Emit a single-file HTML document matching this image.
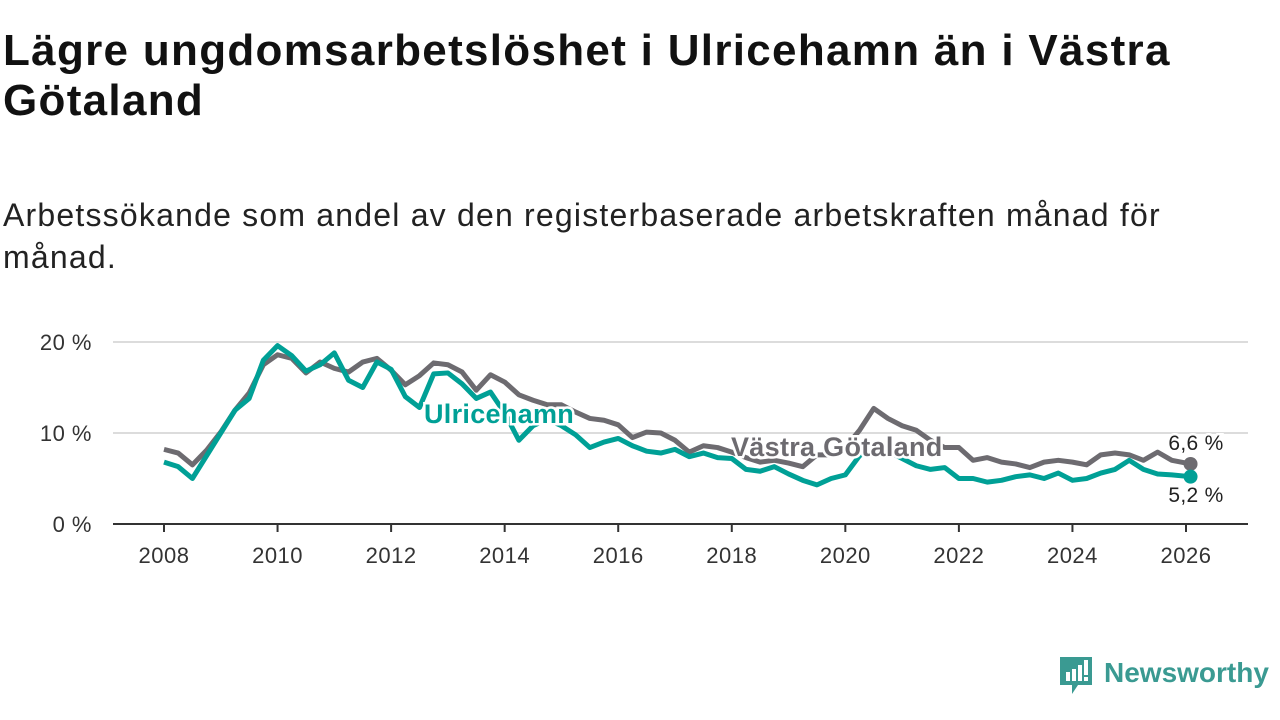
<!DOCTYPE html>
<html><head><meta charset="utf-8">
<style>
body{margin:0;width:1280px;height:720px;background:#fff;font-family:"Liberation Sans",sans-serif;overflow:hidden;position:relative}
h1{position:absolute;left:3px;top:26px;margin:0;font-size:44px;line-height:50px;font-weight:bold;color:#111;width:1270px;letter-spacing:1.3px;white-space:nowrap}
.sub{position:absolute;left:3px;top:194px;font-size:32px;line-height:42px;color:#222;width:1270px;letter-spacing:1.2px;white-space:nowrap}
svg{position:absolute;left:0;top:0}
.logo{position:absolute;left:1058px;top:655px}
</style></head><body>
<h1>Lägre ungdomsarbetslöshet i Ulricehamn än i Västra<br>Götaland</h1>
<div class="sub">Arbetssökande som andel av den registerbaserade arbetskraften månad för<br>månad.</div>
<svg id="chart" width="1280" height="720"></svg>
<div class="logo">
<svg width="222" height="45" style="position:static">
<path d="M2 2h32v28h-14l-6 9v-9h-12z" fill="#3a9a92"/>
<rect x="8" y="17" width="4" height="9" fill="#fff"/><rect x="14" y="14" width="4" height="12" fill="#fff"/><rect x="20" y="10" width="4" height="16" fill="#fff"/><rect x="26" y="5" width="4" height="15" fill="#fff"/><rect x="26" y="22" width="4" height="4" fill="#fff"/>
<text x="46" y="27" font-size="28" font-weight="bold" font-family="Liberation Sans, sans-serif" fill="#3a9a92">Newsworthy</text>
</svg></div>
<script>
const years=[2008,2008.25,2008.5,2008.75,2009,2009.25,2009.5,2009.75,2010,2010.25,2010.5,2010.75,2011,2011.25,2011.5,2011.75,2012,2012.25,2012.5,2012.75,2013,2013.25,2013.5,2013.75,2014,2014.25,2014.5,2014.75,2015,2015.25,2015.5,2015.75,2016,2016.25,2016.5,2016.75,2017,2017.25,2017.5,2017.75,2018,2018.25,2018.5,2018.75,2019,2019.25,2019.5,2019.75,2020,2020.25,2020.5,2020.75,2021,2021.25,2021.5,2021.75,2022,2022.25,2022.5,2022.75,2023,2023.25,2023.5,2023.75,2024,2024.25,2024.5,2024.75,2025,2025.25,2025.5,2025.75,2026.08];
const vg=[8.2,7.8,6.5,8.1,10.1,12.5,14.4,17.5,18.6,18.2,16.6,17.8,17.1,16.7,17.8,18.2,16.9,15.3,16.3,17.7,17.5,16.7,14.7,16.4,15.6,14.2,13.6,13.1,13.1,12.3,11.6,11.4,10.9,9.5,10.1,10.0,9.2,7.9,8.6,8.4,7.9,7.3,6.8,7.0,6.7,6.3,7.6,7.6,8.4,10.3,12.7,11.6,10.8,10.3,9.2,8.4,8.4,7.0,7.3,6.8,6.6,6.2,6.8,7.0,6.8,6.5,7.6,7.8,7.6,7.0,7.9,7.0,6.6];
const ul=[6.8,6.3,5.0,7.5,10.0,12.5,13.8,18.0,19.6,18.5,16.8,17.5,18.8,15.8,15.0,17.8,17.0,14.0,12.8,16.5,16.6,15.4,13.8,14.5,12.2,9.2,10.8,11.5,10.8,9.8,8.4,9.0,9.4,8.6,8.0,7.8,8.2,7.4,7.8,7.3,7.2,6.0,5.8,6.3,5.5,4.8,4.3,5.0,5.4,7.5,8.4,8.0,7.2,6.4,6.0,6.2,5.0,5.0,4.6,4.8,5.2,5.4,5.0,5.6,4.8,5.0,5.6,6.0,7.0,6.0,5.5,5.4,5.2];
const xTicks=[2008,2010,2012,2014,2016,2018,2020,2022,2024,2026];
const yTicks=[0,10,20];
const X=v=>164+(v-2008)*(1022/18), Y=v=>524-v*9.1;
const s=document.getElementById('chart'),NS='http://www.w3.org/2000/svg';
function el(t,a,txt){const e=document.createElementNS(NS,t);for(const k in a)e.setAttribute(k,a[k]);if(txt!==undefined)e.textContent=txt;s.appendChild(e);return e;}
yTicks.forEach(t=>{
 if(t>0){const g=el('line',{x1:113,x2:1248,y1:Y(t),y2:Y(t),stroke:'#dcdcdc','stroke-width':2});
 
 }
 const l=el('text',{x:92,y:Y(t)+8,'text-anchor':'end','font-size':22,fill:'#333','letter-spacing':0.5},t+' %');
 
 
});
const ax=el('line',{x1:113,x2:1248,y1:524,y2:524,stroke:'#333','stroke-width':2});


xTicks.forEach(t=>{
 el('line',{x1:X(t),x2:X(t),y1:524,y2:532,stroke:'#333','stroke-width':2});
 const l=el('text',{x:X(t),y:563,'text-anchor':'middle','font-size':22,fill:'#333','letter-spacing':0.5},t);
 
 
});
function line(d,c,n){const p=el('polyline',{points:years.map((y,i)=>X(y)+','+Y(d[i])).join(' '),fill:'none',stroke:c,'stroke-width':5,'stroke-linejoin':'round'});
 
 
 const c2=el('circle',{cx:X(years[years.length-1]),cy:Y(d[d.length-1]),r:7,fill:c});
 
 }
line(vg,'#6d6b70','vastra-gotaland-line');
line(ul,'#00a096','ulricehamn-line');
function lab(x,y,t,c,n,sz,w,anc){const e=el('text',{x:x,y:y,'font-size':sz,'font-weight':w,fill:c,stroke:'#fff','stroke-width':5,'paint-order':'stroke','text-anchor':anc||'start','letter-spacing':0.3},t);
 
 }
lab(424,423,'Ulricehamn','#00a096','ulricehamn-label',27,'bold');
lab(731,456,'Västra Götaland','#6d6b70','vastra-gotaland-label',27,'bold');
lab(1196,450,'6,6 %','#222','vg-end-value',21,'normal','middle');
lab(1196,502,'5,2 %','#222','ul-end-value',21,'normal','middle');
</script>
</body></html>
